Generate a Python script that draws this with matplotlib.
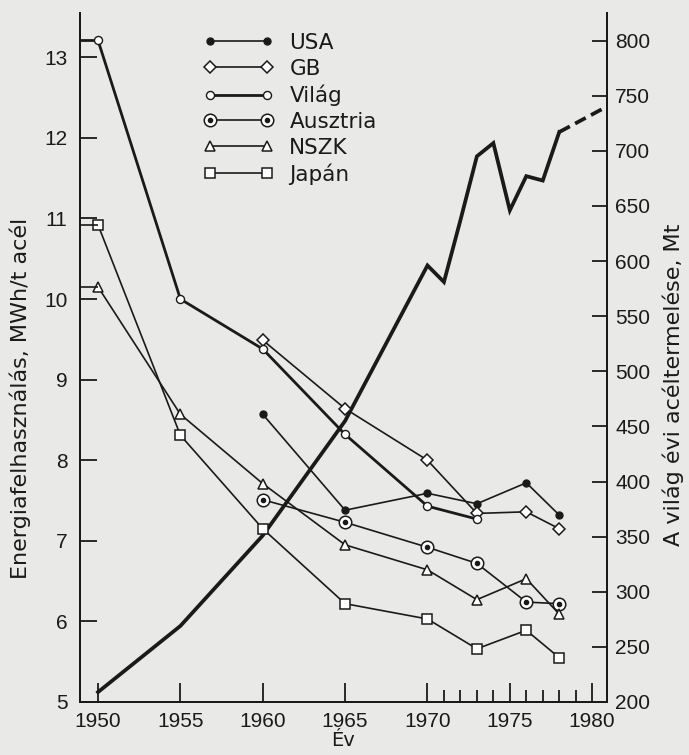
import matplotlib
matplotlib.use("Agg")
import matplotlib.pyplot as plt
from matplotlib.legend_handler import HandlerTuple
from matplotlib.ticker import FixedLocator

plt.rcParams['font.family'] = ['DejaVu Sans']

# ---- data: energy consumption (MWh / t steel), left axis ----
vilag_years = [1950, 1955, 1960, 1965, 1970, 1973]
vilag_vals = [13.21, 10.0, 9.38, 8.32, 7.43, 7.27]

gb_years = [1960, 1965, 1970, 1973, 1976, 1978]
gb_vals = [9.49, 8.64, 8.0, 7.34, 7.36, 7.15]

usa_years = [1960, 1965, 1970, 1973, 1976, 1978]
usa_vals = [8.57, 7.38, 7.59, 7.46, 7.72, 7.32]

aus_years = [1960, 1965, 1970, 1973, 1976, 1978]
aus_vals = [7.51, 7.23, 6.92, 6.72, 6.24, 6.22]

nszk_years = [1950, 1955, 1960, 1965, 1970, 1973, 1976, 1978]
nszk_vals = [10.15, 8.57, 7.71, 6.95, 6.64, 6.27, 6.53, 6.09]

japan_years = [1950, 1955, 1960, 1965, 1970, 1973, 1976, 1978]
japan_vals = [10.92, 8.31, 7.15, 6.22, 6.03, 5.66, 5.89, 5.55]

# ---- data: world steel production (Mt), right axis ----
steel_years = [1950, 1955, 1960, 1965, 1970, 1971, 1972, 1973, 1974, 1975, 1976, 1977, 1978]
steel_vals = [209, 269, 351, 455, 596, 581, 637, 695, 707, 646, 677, 673, 717]
steel_est_years = [1978, 1981]
steel_est_vals = [717, 741]

legend_labels = ["USA", "GB", "Világ", "Ausztria", "NSZK", "Japán"]
left_ticks = [5, 6, 7, 8, 9, 10, 11, 12, 13]
right_ticks = [200, 250, 300, 350, 400, 450, 500, 550, 600, 650, 700, 750, 800]
x_major = [1950, 1955, 1960, 1965, 1970, 1975, 1980]
x_minor = [1971, 1972, 1973, 1974, 1976, 1977, 1978, 1979]

bg = '#e9e9e7'
ink = '#1a1a1a'
tickfont = 'Liberation Sans'

fig = plt.figure(figsize=(6.89, 7.55), dpi=100, facecolor=bg)
ax = fig.add_axes([0.116, 0.0702, 0.765, 0.9126])
ax2 = ax.twinx()
ax.set_zorder(ax2.get_zorder() + 1)
ax.patch.set_visible(False)
ax2.set_facecolor(bg)

XL = (1948.9, 1980.9)
ax.set_xlim(*XL)
ax.set_ylim(5, 13.55)
ax2.set_ylim(200, 825)

# steel production (thick)
ax2.plot(steel_years, steel_vals, color=ink, lw=2.7, solid_joinstyle='miter', zorder=2)
ax2.plot(steel_est_years, steel_est_vals, color=ink, lw=2.7, ls=(0, (3.2, 1.6)), zorder=2)

thin = 1.2
mfc = 'white'

l_usa, = ax.plot(usa_years, usa_vals, color=ink, lw=thin, marker='o', ms=5,
                 mfc=ink, mec=ink, zorder=3)
l_gb, = ax.plot(gb_years, gb_vals, color=ink, lw=thin, marker='D', ms=6.5,
                mfc=mfc, mec=ink, mew=1.1, zorder=3)
l_vil, = ax.plot(vilag_years, vilag_vals, color=ink, lw=2.0, marker='o', ms=5.8,
                 mfc=mfc, mec=ink, mew=1.0, zorder=4)
l_aus, = ax.plot(aus_years, aus_vals, color=ink, lw=thin, marker='o', ms=9,
                 mfc=mfc, mec=ink, mew=1.1, zorder=3)
l_aus_dot, = ax.plot(aus_years, aus_vals, ls='none', marker='o', ms=3,
                     mfc=ink, mec=ink, zorder=3.5)
l_nszk, = ax.plot(nszk_years, nszk_vals, color=ink, lw=thin, marker='^', ms=7.5,
                  mfc=mfc, mec=ink, mew=1.1, zorder=3)
l_jap, = ax.plot(japan_years, japan_vals, color=ink, lw=thin, marker='s', ms=7.5,
                 mfc=mfc, mec=ink, mew=1.1, zorder=3)

# short connectors from the axis to the first 1950 points
ax.hlines([vilag_vals[0]], XL[0], vilag_years[0], color=ink, lw=2.0, zorder=3)
ax.hlines([japan_vals[0], nszk_vals[0]], XL[0], [japan_years[0], nszk_years[0]],
          color=ink, lw=thin, zorder=3)

# spines
for a in (ax, ax2):
    a.spines['top'].set_visible(False)
    for s in ('left', 'right', 'bottom'):
        a.spines[s].set_linewidth(1.4)
        a.spines[s].set_color(ink)

# ticks
ax.xaxis.set_major_locator(FixedLocator(x_major))
ax.xaxis.set_minor_locator(FixedLocator(x_minor))
ax.set_yticks(left_ticks)
ax.yaxis.set_minor_locator(FixedLocator([]))
ax2.set_yticks(right_ticks)
ax2.yaxis.set_minor_locator(FixedLocator([]))

ax.tick_params(axis='x', which='major', direction='in', length=14, width=1.3,
               pad=7, labelsize=15, colors=ink)
ax.tick_params(axis='x', which='minor', direction='in', length=8.5, width=1.3, colors=ink)
ax.tick_params(axis='y', which='major', direction='in', length=12, width=1.3,
               pad=9, labelsize=15, colors=ink)
ax2.tick_params(axis='y', which='major', direction='in', length=11, width=1.3,
                pad=6, labelsize=15, colors=ink)
for lab in ax.get_xticklabels() + ax.get_yticklabels() + ax2.get_yticklabels():
    lab.set_fontfamily(tickfont)

ax.set_xlabel("Év", fontsize=14, color=ink)
ax.xaxis.set_label_coords(0.5, -0.042)
ax.set_ylabel("Energiafelhasználás, MWh/t acél", fontsize=16, color=ink)
ax.yaxis.set_label_coords(-0.093, 0.44)
ax2.set_ylabel("A világ évi acéltermelése, Mt", fontsize=16, color=ink)
ax2.yaxis.set_label_coords(1.106, 0.46)

handles = [l_usa, l_gb, l_vil, (l_aus, l_aus_dot), l_nszk, l_jap]
leg = ax.legend(handles, legend_labels, loc='upper left', bbox_to_anchor=(0.234, 0.971),
                frameon=False, fontsize=15.5, numpoints=2, handlelength=3.25,
                handletextpad=0.75, labelspacing=0.27, borderpad=0, borderaxespad=0,
                handler_map={tuple: HandlerTuple(ndivide=1)})
for t in leg.get_texts():
    t.set_color(ink)

fig.savefig("out.png", dpi=100, facecolor=bg)
